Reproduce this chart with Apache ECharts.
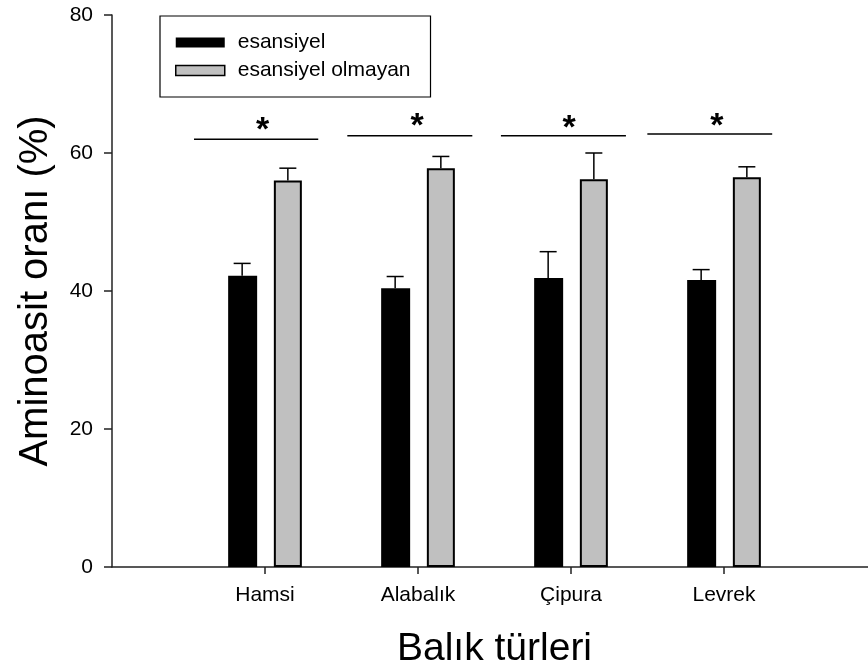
<!DOCTYPE html>
<html>
<head>
<meta charset="utf-8">
<script src="https://cdn.jsdelivr.net/npm/echarts@6/dist/echarts.min.js"></script>
<style>html,body{margin:0;padding:0;background:#fff}#c{width:868px;height:670px}</style>
</head>
<body>
<div id="c"></div>
<script>
const categories = ['Hamsi', 'Alabalık', 'Çipura', 'Levrek'];
const esansiyel = [42.2, 40.4, 41.9, 41.6];
const esansiyelErr = [1.8, 1.7, 3.8, 1.5];
const olmayan = [56.0, 57.8, 56.2, 56.5];
const olmayanErr = [1.8, 1.7, 3.8, 1.5];
const sigStart = [0.536, 1.538, 2.542, 3.499];
const sigEnd = [1.348, 2.355, 3.359, 4.315];
const sigY = [62.0, 62.5, 62.5, 62.75];
const starX = [0.985, 1.995, 2.987, 3.954];
const starY = [64.2, 64.8, 64.6, 64.8];
const yTicks = [0, 20, 40, 60, 80];

const FONT = "'Liberation Sans', Arial, sans-serif";
const pos = categories.map((c, i) => i + 1);
const barData = (vals) => vals.map((v, i) => [pos[i], v]);
const errData = (vals, errs) => vals.map((v, i) => [pos[i], v, errs[i]]);
const BAR_OFFSET = 22.85;
const STAR_SHIFT = 7;

function errRender(offset) {
  return function (params, api) {
    const x = api.value(0), v = api.value(1), e = api.value(2);
    const p0 = api.coord([x, v]);
    const p1 = api.coord([x, v + e]);
    const cx = p0[0] + offset;
    const st = { stroke: '#000', lineWidth: 1.5 };
    return { type: 'group', children: [
      { type: 'line', shape: { x1: cx, y1: p0[1], x2: cx, y2: p1[1] }, style: st },
      { type: 'line', shape: { x1: cx - 8.5, y1: p1[1], x2: cx + 8.5, y2: p1[1] }, style: st }
    ]};
  };
}

const sigData = sigStart.map((s, i) => [s, sigEnd[i], sigY[i], starX[i], starY[i]]);

const chart = echarts.init(document.getElementById('c'));
chart.setOption({
  backgroundColor: '#fff',
  animation: false,
  textStyle: { fontFamily: FONT },
  grid: { left: 112, right: -9, top: 15, bottom: 103, containLabel: false, outerBoundsMode: 'none' },
  legend: {
    orient: 'vertical', left: 160, top: 16,
    padding: [16, 20, 16, 15],
    itemWidth: 49, itemHeight: 10, itemGap: 7,
    borderColor: '#000', borderWidth: 1.2,
    textStyle: { fontSize: 21, color: '#000', fontFamily: FONT, padding: [0, 0, 0, 8], lineHeight: 21 },
    data: [
      { name: 'esansiyel', icon: 'rect', itemStyle: { color: '#000', borderWidth: 0 } },
      { name: 'esansiyel olmayan', icon: 'rect', itemStyle: { color: '#c0c0c0', borderColor: '#000', borderWidth: 1.5 } }
    ]
  },
  xAxis: {
    type: 'value', min: 0, max: 5, interval: 1,
    name: 'Balık türleri', nameLocation: 'middle', nameGap: 63,
    nameTextStyle: { fontSize: 39, color: '#000', fontFamily: FONT },
    axisLine: { lineStyle: { color: '#222', width: 1.5 } },
    axisTick: { show: true, length: 7, lineStyle: { color: '#222', width: 1.5 }, customValues: pos },
    axisLabel: { fontSize: 21, color: '#000', margin: 18, customValues: pos,
      formatter: (v) => categories[Math.round(v) - 1] || '' },
    splitLine: { show: false }
  },
  yAxis: {
    type: 'value', min: 0, max: 80, interval: 20,
    name: 'Aminoasit oranı (%)', nameLocation: 'middle', nameGap: 56,
    nameTextStyle: { fontSize: 40, color: '#000', fontFamily: FONT },
    axisLine: { show: true, lineStyle: { color: '#222', width: 1.5 } },
    axisTick: { show: true, length: 8, lineStyle: { color: '#222', width: 1.5 } },
    axisLabel: { fontSize: 21, color: '#000', margin: 19 },
    splitLine: { show: false }
  },
  series: [
    { name: 'esansiyel', type: 'bar', data: barData(esansiyel), barWidth: 29, barGap: '57.6%',
      itemStyle: { color: '#000' } },
    { name: 'esansiyel olmayan', type: 'bar', data: barData(olmayan), barWidth: 28,
      itemStyle: { color: '#c0c0c0', borderColor: '#000', borderWidth: 2 } },
    { type: 'custom', name: 'errA', data: errData(esansiyel, esansiyelErr), renderItem: errRender(-BAR_OFFSET), z: 5, silent: true },
    { type: 'custom', name: 'errB', data: errData(olmayan, olmayanErr), renderItem: errRender(BAR_OFFSET), z: 5, silent: true },
    { type: 'custom', name: 'sig', data: sigData, z: 5, silent: true,
      renderItem: function (params, api) {
        const a = api.coord([api.value(0), api.value(2)]);
        const b = api.coord([api.value(1), api.value(2)]);
        const s = api.coord([api.value(3), api.value(4)]);
        return { type: 'group', children: [
          { type: 'line', shape: { x1: a[0], y1: a[1], x2: b[0], y2: b[1] }, style: { stroke: '#000', lineWidth: 1.5 } },
          { type: 'text', x: s[0], y: s[1] + STAR_SHIFT, style: { text: '*', fontSize: 34, fontWeight: 'bold', fontFamily: FONT, fill: '#000',
            textAlign: 'center', textVerticalAlign: 'middle' } }
        ]};
      }
    }
  ]
});
</script>
</body>
</html>
